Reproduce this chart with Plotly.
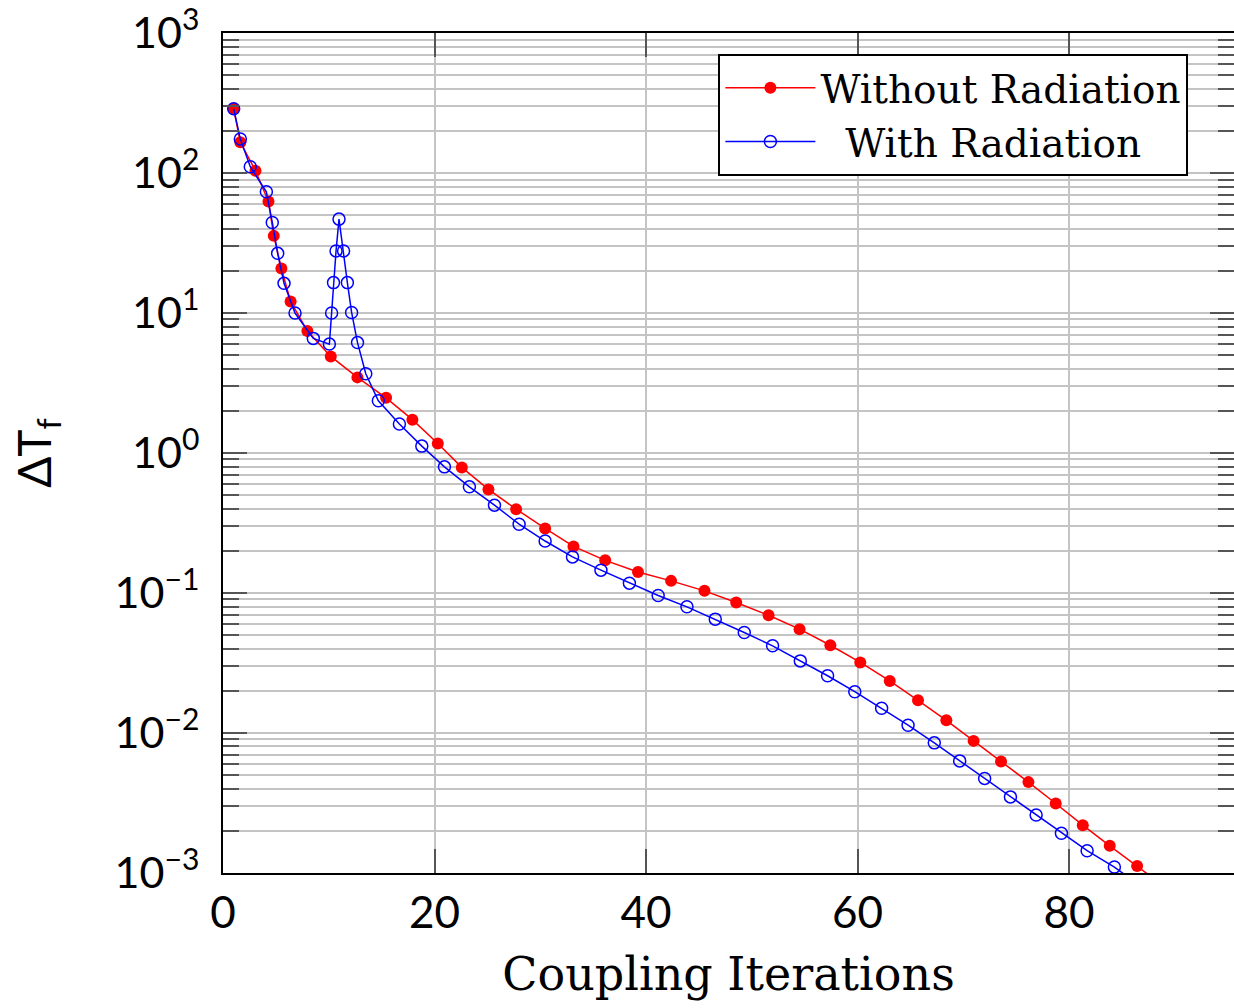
import plotly.graph_objects as go

# Without Radiation (red, filled markers)
x_without = [1.01, 1.64, 3.07, 4.30, 4.80, 5.52, 6.39, 7.98, 10.19, 12.71, 15.42, 17.91,
             20.31, 22.58, 25.10, 27.72, 30.46, 33.14, 36.14, 39.24, 42.37, 45.53, 48.53,
             51.59, 54.52, 57.43, 60.26, 63.05, 65.72, 68.40, 70.98, 73.57, 76.16, 78.74,
             81.30, 83.85, 86.44, 89.0]
y_without = [288, 166, 104, 62.7, 35.6, 20.8, 12.1, 7.43, 4.90, 3.47, 2.48, 1.73,
             1.17, 0.789, 0.549, 0.397, 0.289, 0.215, 0.171, 0.141, 0.122, 0.1035, 0.0855,
             0.0693, 0.0551, 0.0423, 0.0319, 0.0235, 0.0171, 0.0123, 0.00877, 0.00625, 0.00445, 0.00313,
             0.00219, 0.00156, 0.00112, 0.00080]

# With Radiation (blue, open markers)
x_with = [1.01, 1.64, 2.58, 4.10, 4.66, 5.17, 5.77, 6.81, 8.54, 10.06, 10.27, 10.45, 10.69,
          10.97, 11.40, 11.76, 12.16, 12.72, 13.50, 14.69, 16.68, 18.80, 20.94, 23.30, 25.67,
          28.00, 30.46, 33.05, 35.74, 38.43, 41.15, 43.87, 46.55, 49.29, 51.97, 54.59, 57.17,
          59.74, 62.28, 64.78, 67.26, 69.66, 72.02, 74.46, 76.89, 79.28, 81.71, 84.29, 86.8]
y_with = [288, 175, 111, 73.5, 44.4, 26.7, 16.3, 10.0, 6.59, 6.00, 10.0, 16.5, 27.8,
          46.9, 27.8, 16.5, 10.1, 6.15, 3.68, 2.36, 1.61, 1.12, 0.796, 0.573, 0.424,
          0.310, 0.235, 0.181, 0.1455, 0.1175, 0.0959, 0.0796, 0.0650, 0.0522, 0.0419, 0.0327, 0.0256,
          0.0197, 0.0150, 0.01135, 0.00849, 0.00631, 0.00473, 0.00349, 0.00259, 0.00192, 0.00144, 0.00110, 0.00080]

x_ticks = [0, 20, 40, 60, 80]
y_tickvals = [1e-3, 1e-2, 1e-1, 1e0, 1e1, 1e2, 1e3]
y_ticktext = ["10<sup>−3</sup>", "10<sup>−2</sup>", "10<sup>−1</sup>", "10<sup>0</sup>",
              "10<sup>1</sup>", "10<sup>2</sup>", "10<sup>3</sup>"]

SANS = "Lato, 'Open Sans', sans-serif"
SERIF = "'DejaVu Serif', 'Liberation Serif', serif"
GRID = "#c4c4c4"
TICK = "#555555"

fig = go.Figure()
fig.add_trace(go.Scatter(
    x=x_without, y=y_without, mode="lines+markers", name="Without Radiation",
    line=dict(color="rgb(255,0,0)", width=1.5),
    marker=dict(symbol="circle", size=12, color="rgb(255,0,0)"),
))
fig.add_trace(go.Scatter(
    x=x_with, y=y_with, mode="lines+markers", name="\u00a0\u00a0With Radiation",
    line=dict(color="rgb(0,0,255)", width=1.5),
    marker=dict(symbol="circle-open", size=12, color="rgb(0,0,255)", line=dict(width=1.5)),
))

fig.update_layout(
    width=1234, height=1008,
    margin=dict(l=223, r=0, t=33, b=135, autoexpand=False),
    paper_bgcolor="white", plot_bgcolor="white",
    showlegend=True,
    legend=dict(
        x=0.49, y=0.975, xanchor="left", yanchor="top",
        bgcolor="white", bordercolor="black", borderwidth=2,
        font=dict(family=SERIF, size=39, color="black"),
        itemwidth=90, tracegroupgap=0,
    ),
    xaxis=dict(
        range=[0, 95.6], tickvals=x_ticks, ticktext=[str(v) for v in x_ticks],
        showgrid=True, gridcolor=GRID, gridwidth=1.5, zeroline=False,
        ticks="inside", ticklen=24, tickwidth=1.5, tickcolor=TICK,
        showline=True, linecolor="black", linewidth=2, mirror="allticks",
        tickfont=dict(family=SANS, size=44, color="black"),
        ticklabeloverflow="allow",
        title=dict(text="Coupling Iterations", font=dict(family=SERIF, size=46, color="black"), standoff=22),
    ),
    yaxis=dict(
        type="log", range=[-3.001, 3.001], tickvals=y_tickvals, ticktext=y_ticktext,
        showgrid=True, gridcolor=GRID, gridwidth=1.5, zeroline=False,
        ticks="inside", ticklen=24, tickwidth=1.5, tickcolor=TICK,
        showline=True, linecolor="black", linewidth=2, mirror="allticks",
        tickfont=dict(family=SANS, size=43, color="black"),
        ticklabelstandoff=13, ticklabeloverflow="allow",
        minor=dict(dtick="D1", showgrid=True, gridcolor=GRID, gridwidth=1.5,
                   ticks="inside", ticklen=16, tickwidth=1.5, tickcolor=TICK),
        title=dict(text="ΔT<sub>f</sub>", font=dict(family=SANS, size=46, color="black"), standoff=48),
    ),
)

fig.write_html("out.html")
